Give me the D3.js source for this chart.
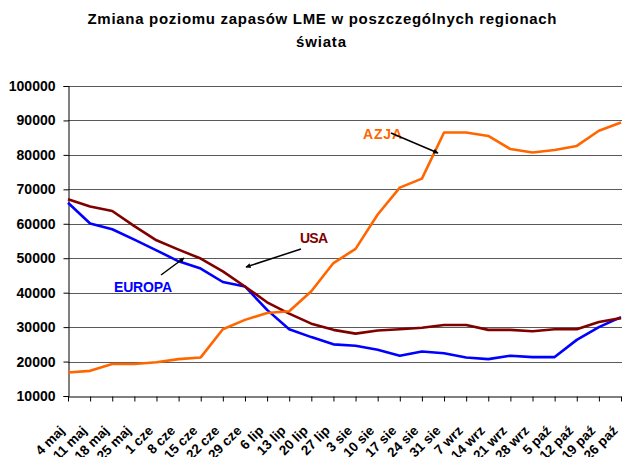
<!DOCTYPE html>
<html>
<head>
<meta charset="utf-8">
<script src="https://cdn.jsdelivr.net/npm/d3@7"></script>
<style>
  html, body { margin: 0; padding: 0; background: #fff; }
  svg { display: block; font-family: "Liberation Sans", Arial, sans-serif; }
</style>
</head>
<body>
<svg id="chart" width="622" height="457"></svg>
<script>
const categories = ["4 maj","11 maj","18 maj","25 maj","1 cze","8 cze","15 cze","22 cze","29 cze","6 lip","13 lip","20 lip","27 lip","3 sie","10 sie","17 sie","24 sie","31 sie","7 wrz","14 wrz","21 wrz","28 wrz","5 paź","12 paź","19 paź","26 paź"];

const europa = [66100, 60100, 58400, 55400, 52300, 49100, 47000, 43100, 41800, 35000, 29400, 27100, 25000, 24600, 23400, 21700, 22900, 22400, 21200, 20700, 21700, 21300, 21300, 26300, 30000, 32900];
const usa    = [67100, 65000, 63700, 59300, 55200, 52500, 49900, 46200, 41800, 37200, 33900, 31000, 29200, 28100, 29000, 29400, 29800, 30600, 30600, 29200, 29200, 28800, 29400, 29400, 31500, 32600];
const azja   = [16800, 17300, 19300, 19300, 19800, 20700, 21200, 29400, 32100, 34100, 34600, 40400, 48600, 52700, 62700, 70500, 73100, 86500, 86500, 85500, 81700, 80700, 81400, 82600, 87000, 89400];

const yTicks = [10000, 20000, 30000, 40000, 50000, 60000, 70000, 80000, 90000, 100000];

const titleLines = ["Zmiana poziomu zapasów LME w poszczególnych regionach", "świata"];

const series = [
  { name: "EUROPA", values: europa, color: "#0000FF" },
  { name: "USA", values: usa, color: "#800000" },
  { name: "AZJA", values: azja, color: "#FF6600" }
];

const svg = d3.select("#chart");
const pLeft = 68, pRight = 621, pTop = 86, pBottom = 396;

const x = d3.scalePoint().domain(categories).range([pLeft, pRight]);
const y = d3.scaleLinear().domain([10000, 100000]).range([pBottom, pTop]);

// title
svg.append("text").attr("x", 322).attr("y", 24).attr("text-anchor", "middle")
  .attr("font-size", 15).attr("font-weight", "bold")
  .attr("textLength", 469).attr("lengthAdjust", "spacing")
  .text(titleLines[0]);
svg.append("text").attr("x", 321).attr("y", 47).attr("text-anchor", "middle")
  .attr("font-size", 15).attr("font-weight", "bold")
  .attr("textLength", 50).attr("lengthAdjust", "spacing")
  .text(titleLines[1]);

// gridlines
svg.append("g").selectAll("line").data(yTicks.filter(d => d > 10000)).join("line")
  .attr("x1", pLeft).attr("x2", 622)
  .attr("y1", d => Math.round(y(d)) + 0.5).attr("y2", d => Math.round(y(d)) + 0.5)
  .attr("stroke", "#5a5a5a").attr("stroke-width", 1);

// y axis
const yAxis = svg.append("g").attr("transform", `translate(${pLeft + 0.5},0)`)
  .call(d3.axisLeft(y).tickValues(yTicks).tickFormat(d3.format("d")).tickSizeOuter(0).tickSize(5).tickPadding(8));
yAxis.select(".domain").attr("stroke", "#000");
yAxis.selectAll("line").attr("stroke", "#000");
yAxis.selectAll("text").attr("font-size", 14).attr("font-weight", "bold")
  .attr("font-family", '"Liberation Sans", Arial, sans-serif').attr("fill", "#000");

// x axis
const xAxis = svg.append("g").attr("transform", `translate(0,${pBottom + 0.5})`)
  .call(d3.axisBottom(x).tickSize(5).tickSizeOuter(0));
xAxis.select(".domain").attr("stroke", "#000");
xAxis.selectAll("line").attr("stroke", "#000");
xAxis.selectAll("text")
  .attr("font-size", 13.5).attr("font-weight", "bold")
  .attr("font-family", '"Liberation Sans", Arial, sans-serif').attr("fill", "#000")
  .attr("text-anchor", "end")
  .attr("y", 0).attr("dy", 0)
  .attr("transform", "translate(-3,35) rotate(-45)");

// lines
const line = d3.line().x((d, i) => x(categories[i])).y(d => y(d));
svg.append("g").selectAll("path").data(series).join("path")
  .attr("d", d => line(d.values))
  .attr("fill", "none").attr("stroke", d => d.color)
  .attr("stroke-width", 2.6).attr("stroke-linejoin", "round");

// arrows
const defs = svg.append("defs");
defs.append("marker").attr("id", "arrow").attr("viewBox", "0 0 10 10")
  .attr("refX", 9).attr("refY", 5).attr("markerWidth", 7).attr("markerHeight", 5)
  .attr("markerUnits", "userSpaceOnUse")
  .attr("orient", "auto")
  .append("path").attr("d", "M0,0 L10,5 L0,10 z").attr("fill", "#000");

const annotations = [
  { text: "AZJA", color: "#FF6600", tx: 363, ty: 139, len: 39, x1: 391, y1: 133, x2: 438, y2: 153 },
  { text: "USA", color: "#800000", tx: 300, ty: 243, len: 28, x1: 301, y1: 249, x2: 246, y2: 267 },
  { text: "EUROPA", color: "#0000FF", tx: 114, ty: 292, len: 58, x1: 161, y1: 275, x2: 184, y2: 258 }
];
annotations.forEach(a => {
  svg.append("text").attr("x", a.tx).attr("y", a.ty)
    .attr("font-size", 14).attr("font-weight", "bold").attr("fill", a.color)
    .attr("textLength", a.len).attr("lengthAdjust", "spacing")
    .text(a.text);
  svg.append("line").attr("x1", a.x1).attr("y1", a.y1).attr("x2", a.x2).attr("y2", a.y2)
    .attr("stroke", "#000").attr("stroke-width", 1.5).attr("marker-end", "url(#arrow)");
});
</script>
</body>
</html>
